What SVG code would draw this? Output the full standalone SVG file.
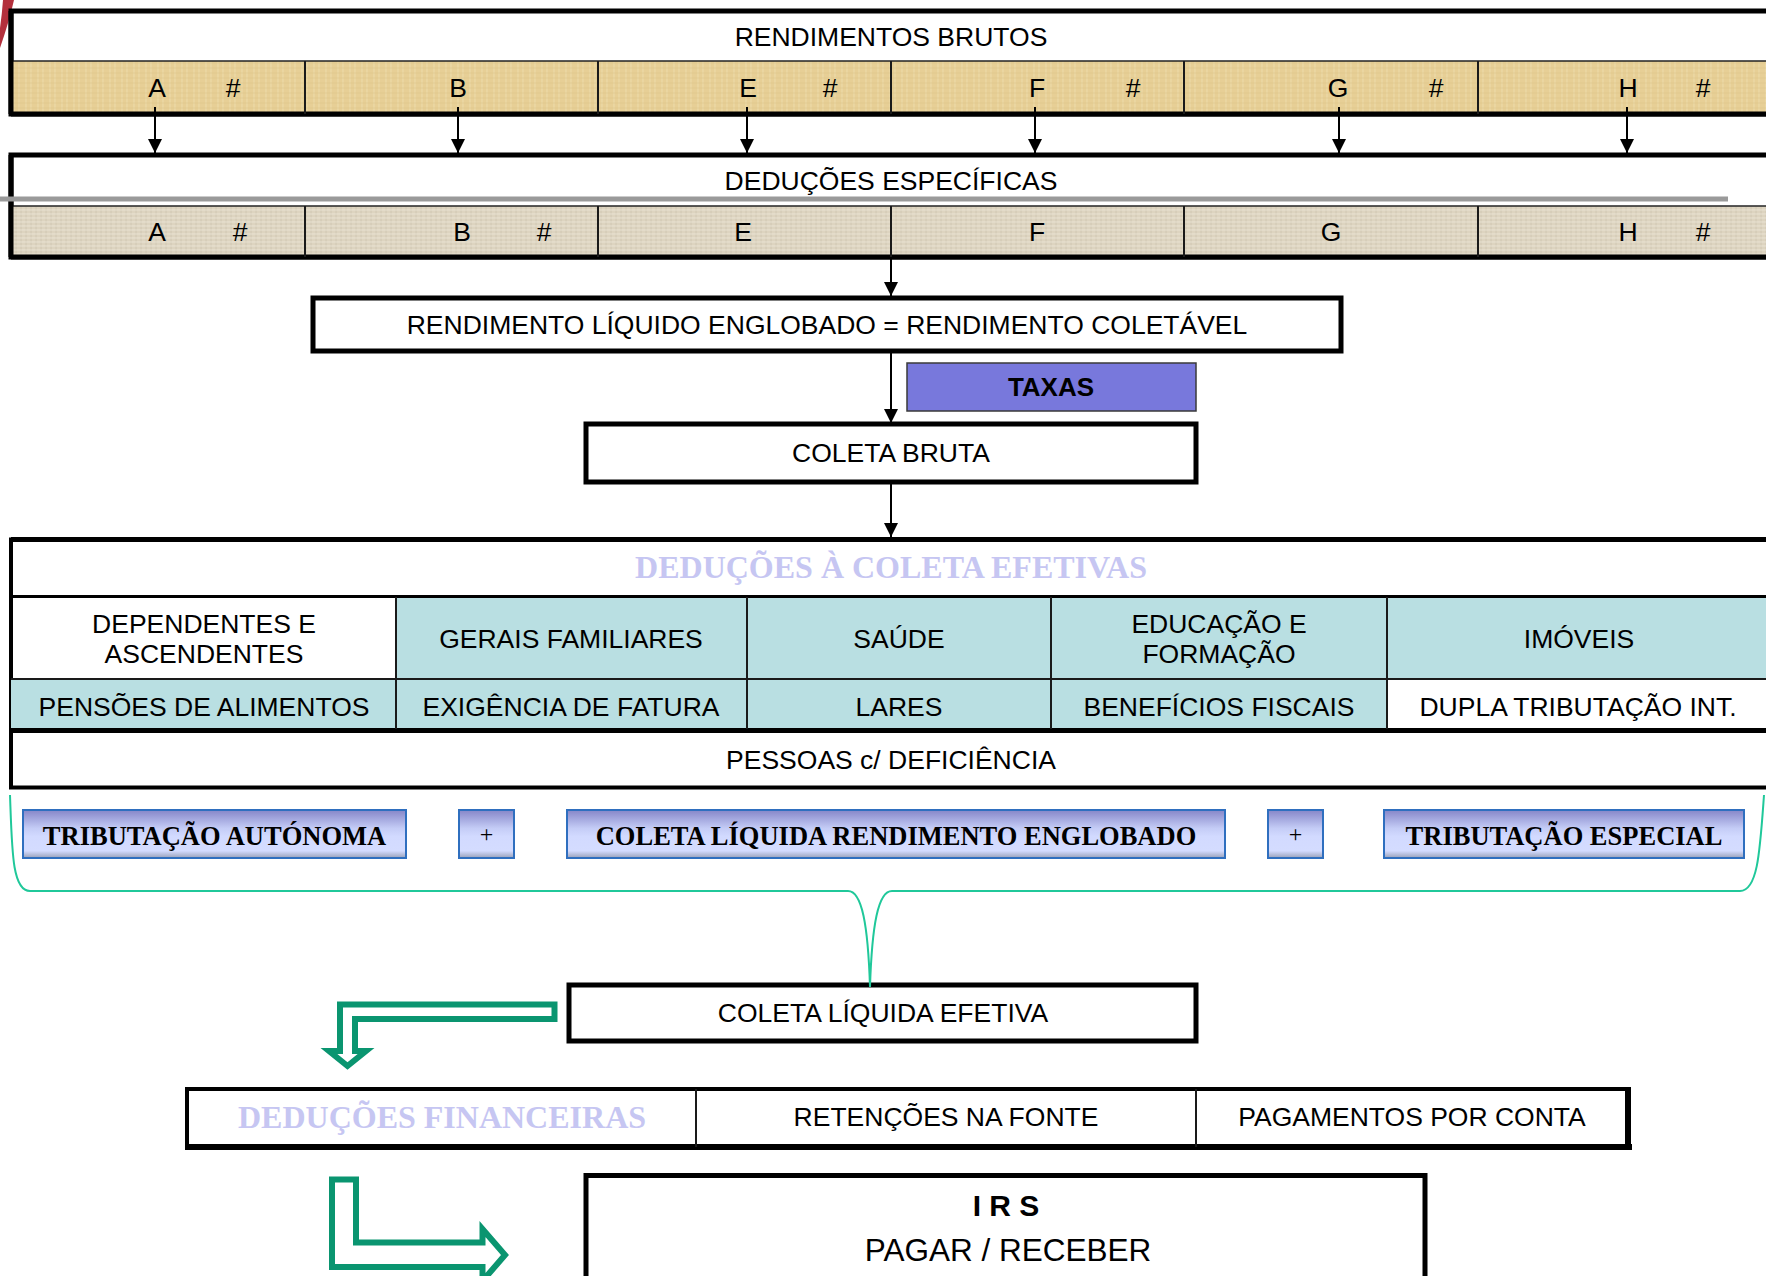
<svg xmlns="http://www.w3.org/2000/svg" width="1766" height="1276" viewBox="0 0 1766 1276">
<defs>
<style>
.t{font-family:"Liberation Sans",Arial,sans-serif;font-size:26.5px;fill:#000;text-anchor:middle}
.tb{font-family:"Liberation Sans",Arial,sans-serif;font-weight:bold;fill:#000;text-anchor:middle}
.s{font-family:"Liberation Serif","Times New Roman",serif;font-weight:bold;text-anchor:middle}
.lav{fill:#c6c6f2;font-size:32px}
.btnt{fill:#000;font-size:26.5px}
.box{fill:#fff;stroke:#000;stroke-width:5}
.div{stroke:#1a1a1a;stroke-width:2}
.teal{fill:#b9dfe2}
.btn{fill:url(#btnGrad);stroke:#2f6fbf;stroke-width:2}
.conn{stroke:#000;stroke-width:2;fill:none}
.hollow{fill:#fff;stroke:#0a9570;stroke-width:6;stroke-linejoin:miter}
</style>
<linearGradient id="btnGrad" x1="0" y1="0" x2="0" y2="1">
<stop offset="0" stop-color="#8686c8"/>
<stop offset="0.38" stop-color="#c4ccf6"/>
<stop offset="0.55" stop-color="#d2daff"/>
<stop offset="0.85" stop-color="#d4dcff"/>
<stop offset="1" stop-color="#98a0b8"/>
</linearGradient>
<pattern id="tan1" width="12" height="10" patternUnits="userSpaceOnUse">
<rect width="12" height="10" fill="#e7cf96"/>
<path d="M2 0V10M7 0V10" stroke="#f1e0b2" stroke-width="1" opacity="0.7"/>
<path d="M0 3H12M0 8H12" stroke="#d8bd80" stroke-width="0.8" opacity="0.5"/>
</pattern>
<pattern id="tan2" width="10" height="8" patternUnits="userSpaceOnUse">
<rect width="10" height="8" fill="#ddd4c0"/>
<path d="M1 0V8M6 0V8" stroke="#c8bea8" stroke-width="1" opacity="0.6"/>
<path d="M0 2H10M0 6H10" stroke="#eee8da" stroke-width="1" opacity="0.7"/>
</pattern>
<marker id="ah" markerUnits="userSpaceOnUse" markerWidth="14" markerHeight="14" viewBox="0 0 14 14" refX="14" refY="7" orient="auto">
<path d="M0,0 L14,7 L0,14 Z" fill="#000"/>
</marker>
</defs>
<rect width="1766" height="1276" fill="#fff"/>
<path d="M3,0 L14,0 Q9,22 0,48 L0,28 Q2,14 3,0 Z" fill="#b3303c"/>

<g id="rendimentos-brutos">
<rect class="box" x="11" y="11" width="1770" height="103"/>
<rect x="13" y="61" width="1768" height="51" fill="url(#tan1)"/>
<line x1="11" y1="61" x2="1781" y2="61" stroke="#222" stroke-width="1.5"/>
<line x1="11" y1="114" x2="1781" y2="114" stroke="#000" stroke-width="5"/>
<line x1="11" y1="11" x2="11" y2="114" stroke="#000" stroke-width="5"/>
<path class="div" d="M305 61V114M598 61V114M891 61V114M1184 61V114M1478 61V114"/>
<text class="t" x="891" y="46">RENDIMENTOS BRUTOS</text>
<text class="t" x="157" y="97">A</text><text class="t" x="233" y="97">#</text>
<text class="t" x="458" y="97">B</text>
<text class="t" x="748" y="97">E</text><text class="t" x="830" y="97">#</text>
<text class="t" x="1037" y="97">F</text><text class="t" x="1133" y="97">#</text>
<text class="t" x="1338" y="97">G</text><text class="t" x="1436" y="97">#</text>
<text class="t" x="1628" y="97">H</text><text class="t" x="1703" y="97">#</text>
</g>

<g id="deducoes-especificas">
<rect class="box" x="11" y="155" width="1770" height="102"/>
<rect x="13" y="206" width="1768" height="49" fill="url(#tan2)"/>
<line x1="11" y1="206" x2="1781" y2="206" stroke="#222" stroke-width="1.5"/>
<line x1="11" y1="257" x2="1781" y2="257" stroke="#000" stroke-width="5"/>
<line x1="11" y1="155" x2="11" y2="257" stroke="#000" stroke-width="5"/>
<line x1="0" y1="199" x2="1728" y2="199" stroke="#9a9a9a" stroke-width="5"/>
<path class="div" d="M305 206V257M598 206V257M891 206V257M1184 206V257M1478 206V257"/>
<text class="t" x="891" y="190">DEDUÇÕES ESPECÍFICAS</text>
<text class="t" x="157" y="241">A</text><text class="t" x="240" y="241">#</text>
<text class="t" x="462" y="241">B</text><text class="t" x="544" y="241">#</text>
<text class="t" x="743" y="241">E</text>
<text class="t" x="1037" y="241">F</text>
<text class="t" x="1331" y="241">G</text>
<text class="t" x="1628" y="241">H</text><text class="t" x="1703" y="241">#</text>
</g>

<g id="rendimento-liquido">
<rect class="box" x="313" y="298" width="1028" height="53"/>
<text class="t" x="827" y="334">RENDIMENTO LÍQUIDO ENGLOBADO = RENDIMENTO COLETÁVEL</text>
</g>

<g id="taxas">
<rect x="907" y="363" width="289" height="48" fill="#7878dc" stroke="#3a3a3a" stroke-width="1.5"/>
<text class="tb" x="1051" y="396" font-size="26">TAXAS</text>
</g>

<g id="coleta-bruta">
<rect class="box" x="586" y="424" width="610" height="58"/>
<text class="t" x="891" y="462">COLETA BRUTA</text>
</g>

<g id="deducoes-coleta">
<rect x="11" y="539.5" width="1770" height="248" fill="#fff" stroke="#000" stroke-width="4"/>
<line x1="11" y1="539.5" x2="1781" y2="539.5" stroke="#000" stroke-width="5"/>
<rect class="teal" x="396" y="598" width="1385" height="81"/>
<rect class="teal" x="11" y="679" width="1376" height="51"/>
<line x1="11" y1="596.5" x2="1781" y2="596.5" stroke="#000" stroke-width="3"/>
<line x1="11" y1="679" x2="1781" y2="679" stroke="#1a1a1a" stroke-width="2"/>
<line x1="9" y1="730.5" x2="1781" y2="730.5" stroke="#000" stroke-width="5"/>
<path class="div" d="M396 597V729M747 597V729M1051 597V729M1387 597V729"/>
<text class="s lav" x="891" y="578">DEDUÇÕES À COLETA EFETIVAS</text>
<text class="t" x="204" y="633">DEPENDENTES E</text>
<text class="t" x="204" y="663">ASCENDENTES</text>
<text class="t" x="571" y="648">GERAIS FAMILIARES</text>
<text class="t" x="899" y="648">SAÚDE</text>
<text class="t" x="1219" y="633">EDUCAÇÃO E</text>
<text class="t" x="1219" y="663">FORMAÇÃO</text>
<text class="t" x="1579" y="648">IMÓVEIS</text>
<text class="t" x="204" y="716">PENSÕES DE ALIMENTOS</text>
<text class="t" x="571" y="716">EXIGÊNCIA DE FATURA</text>
<text class="t" x="899" y="716">LARES</text>
<text class="t" x="1219" y="716">BENEFÍCIOS FISCAIS</text>
<text class="t" x="1578" y="716">DUPLA TRIBUTAÇÃO INT.</text>
<text class="t" x="891" y="769">PESSOAS c/ DEFICIÊNCIA</text>
</g>

<g id="tributacao-autonoma">
<rect class="btn" x="23" y="810" width="383" height="48"/>
<text class="s btnt" x="214.5" y="845">TRIBUTAÇÃO AUTÓNOMA</text>
</g>
<g id="mais-1">
<rect class="btn" x="459" y="810" width="55" height="48"/>
<text x="486.5" y="842" font-family="Liberation Serif,serif" font-size="24" text-anchor="middle">+</text>
</g>
<g id="coleta-liquida-re">
<rect class="btn" x="567" y="810" width="658" height="48"/>
<text class="s btnt" x="896" y="845">COLETA LÍQUIDA RENDIMENTO ENGLOBADO</text>
</g>
<g id="mais-2">
<rect class="btn" x="1268" y="810" width="55" height="48"/>
<text x="1295.5" y="842" font-family="Liberation Serif,serif" font-size="24" text-anchor="middle">+</text>
</g>
<g id="tributacao-especial">
<rect class="btn" x="1384" y="810" width="360" height="48"/>
<text class="s btnt" x="1564" y="845">TRIBUTAÇÃO ESPECIAL</text>
</g>

<g id="coleta-liquida-efetiva">
<rect class="box" x="569" y="985" width="627" height="56"/>
<text class="t" x="883" y="1022">COLETA LÍQUIDA EFETIVA</text>
</g>

<g id="deducoes-financeiras">
<rect x="187" y="1089" width="1442" height="58" fill="#fff" stroke="#000" stroke-width="4"/>
<line x1="185" y1="1147" x2="1632" y2="1147" stroke="#000" stroke-width="6"/>
<line x1="1628" y1="1087" x2="1628" y2="1150" stroke="#000" stroke-width="6"/>
<path class="div" d="M696 1089V1147M1196 1089V1147"/>
<text class="s" x="442" y="1128" font-size="32" fill="#c6c6f2">DEDUÇÕES FINANCEIRAS</text>
<text class="t" x="946" y="1126">RETENÇÕES NA FONTE</text>
<text class="t" x="1412" y="1126">PAGAMENTOS POR CONTA</text>
</g>

<g id="irs">
<rect class="box" x="586" y="1175.5" width="839" height="140"/>
<text class="tb" x="1006" y="1216" font-size="30">I R S</text>
<text class="t" x="1008" y="1261" style="font-size:31.5px">PAGAR / RECEBER</text>
</g>

<g id="connectors">
<line class="conn" x1="155" y1="107" x2="155" y2="153" marker-end="url(#ah)"/>
<line class="conn" x1="458" y1="107" x2="458" y2="153" marker-end="url(#ah)"/>
<line class="conn" x1="747" y1="107" x2="747" y2="153" marker-end="url(#ah)"/>
<line class="conn" x1="1035" y1="107" x2="1035" y2="153" marker-end="url(#ah)"/>
<line class="conn" x1="1339" y1="107" x2="1339" y2="153" marker-end="url(#ah)"/>
<line class="conn" x1="1627" y1="107" x2="1627" y2="153" marker-end="url(#ah)"/>
<line class="conn" x1="891" y1="257" x2="891" y2="296" marker-end="url(#ah)"/>
<line class="conn" x1="891" y1="351" x2="891" y2="423" marker-end="url(#ah)"/>
<line class="conn" x1="891" y1="482" x2="891" y2="537" marker-end="url(#ah)"/>
<path d="M10,795 C12,850 12,891 30,891 L848,891 C862,891 868,925 870,987 C872,925 878,891 892,891 L1740,891 C1758,891 1760,850 1764,795" fill="none" stroke="#20c89a" stroke-width="2"/>
<polygon class="hollow" points="554.5,1004.5 340,1004.5 340,1051 329,1051 347.5,1066 366,1051 355,1051 355,1019 554.5,1019"/>
<polygon class="hollow" points="332,1179.5 356,1179.5 356,1242.5 482.5,1242.5 482.5,1229 505,1255 482.5,1281 482.5,1267 332,1267"/>
</g>
</svg>
